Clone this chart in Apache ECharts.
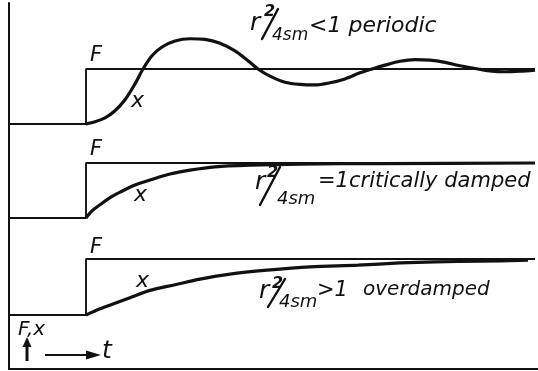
<!DOCTYPE html>
<html>
<head>
<meta charset="utf-8">
<script src="https://cdn.jsdelivr.net/npm/echarts@6/dist/echarts.min.js"></script>
<style>
  html, body { margin: 0; padding: 0; background: #fff; }
  #chart { width: 538px; height: 371px; }
</style>
</head>
<body>
<div id="chart"></div>
<script>
// Time axis (arbitrary units; the force steps on at t = 0)
const tStart = -1.54;
const tEnd = 8.98;

// Applied force F: zero, then a unit step
const tForce = [tStart, 0, 0, tEnd];
const force = [0, 0, 1, 1];

// Displacement x for r²/4sm < 1 (periodic, damped oscillation)
const tPeriodic = [0, 0.18, 0.38, 0.58, 0.78, 0.98, 1.14, 1.32, 1.52, 1.78, 2.08, 2.38, 2.68, 2.98, 3.24, 3.44, 3.68, 3.98, 4.28, 4.58, 4.88, 5.18, 5.48, 5.72, 5.98, 6.28, 6.58, 6.88, 7.18, 7.48, 7.84, 8.12, 8.38, 8.68, 8.98];
const xPeriodic = [0, 0.04, 0.11, 0.24, 0.44, 0.73, 1.0, 1.24, 1.40, 1.51, 1.55, 1.54, 1.47, 1.33, 1.15, 1.0, 0.87, 0.76, 0.72, 0.71, 0.75, 0.82, 0.93, 1.0, 1.07, 1.14, 1.17, 1.16, 1.12, 1.06, 1.0, 0.96, 0.95, 0.96, 0.98];

// Displacement x for r²/4sm = 1 (critically damped)
const tCritical = [0, 0.12, 0.28, 0.48, 0.68, 0.98, 1.28, 1.68, 2.08, 2.58, 3.28, 4.28, 5.88, 8.98];
const xCritical = [0, 0.13, 0.24, 0.37, 0.47, 0.60, 0.69, 0.80, 0.87, 0.93, 0.96, 0.98, 0.99, 1.0];

// Displacement x for r²/4sm > 1 (overdamped)
const tOver = [0, 0.28, 0.58, 0.88, 1.28, 1.78, 2.28, 2.88, 3.62, 4.48, 5.44, 6.28, 6.98, 7.88, 8.84];
const xOver = [0, 0.11, 0.21, 0.31, 0.44, 0.54, 0.64, 0.73, 0.80, 0.86, 0.89, 0.93, 0.95, 0.96, 0.98];

const ink = '#111';
const zip = (a, b) => a.map((v, i) => [v, b[i]]);

// Three stacked panels share the time scale; each has F = 1 at its top edge
const panels = [
  { top: 69, height: 55, x: zip(tPeriodic, xPeriodic) },
  { top: 163, height: 55, x: zip(tCritical, xCritical) },
  { top: 259, height: 56, x: zip(tOver, xOver) }
];

const grid = [];
const xAxis = [];
const yAxis = [];
const series = [];

panels.forEach((p, i) => {
  grid.push({ left: 9, width: 527, top: p.top, height: p.height });
  xAxis.push({ gridIndex: i, type: 'value', min: tStart, max: 9.0, show: false });
  yAxis.push({ gridIndex: i, type: 'value', min: 0, max: 1, show: false });
  series.push({
    type: 'line', xAxisIndex: i, yAxisIndex: i, data: zip(tForce, force),
    showSymbol: false, clip: false, silent: true,
    lineStyle: { color: ink, width: 1.9 }
  });
  series.push({
    type: 'line', xAxisIndex: i, yAxisIndex: i, data: p.x,
    smooth: 0.3, showSymbol: false, clip: false, silent: true,
    lineStyle: { color: ink, width: 3.2 }
  });
});

// Outer frame: left and bottom axis lines
const frameAxis = {
  type: 'value', min: 0, max: 1,
  axisLine: { show: true, lineStyle: { color: ink, width: 2 } },
  axisTick: { show: false }, axisLabel: { show: false }, splitLine: { show: false }
};
grid.push({ left: 9, right: 0, top: 3, bottom: 2 });
xAxis.push(Object.assign({ gridIndex: 3 }, frameAxis));
yAxis.push(Object.assign({ gridIndex: 3 }, frameAxis));

const FONT = '"DejaVu Sans"';

function txt(x, y, s, size, weight) {
  return {
    type: 'text', x: x, y: y, silent: true,
    style: {
      text: s, fill: ink,
      font: 'italic ' + (weight || 'normal') + ' ' + size + 'px ' + FONT,
      align: 'left', verticalAlign: 'middle'
    }
  };
}

function slash(x1, y1, x2, y2) {
  return { type: 'line', silent: true, shape: { x1: x1, y1: y1, x2: x2, y2: y2 }, style: { stroke: ink, lineWidth: 2.4, lineCap: 'round' } };
}

// r²/4sm followed by the relation text
function ratio(o) {
  return [
    txt(o.rx, o.ry, 'r', 25),
    txt(o.sx, o.sy, '2', 16, 'bold'),
    slash(o.l[0], o.l[1], o.l[2], o.l[3]),
    txt(o.dx, o.dy, '4sm', o.ds),
    txt(o.relX, o.relY, o.rel, o.relSize)
  ];
}

const graphic = [].concat(
  ratio({ rx: 250, ry: 23, sx: 264, sy: 12, l: [278, 9, 262, 39], dx: 272, dy: 36, ds: 17, relX: 309, relY: 26, rel: '<1 periodic', relSize: 22 }),
  ratio({ rx: 255, ry: 182, sx: 267, sy: 173, l: [280, 167, 260, 205], dx: 277, dy: 199, ds: 18, relX: 318, relY: 182, rel: '=1critically damped', relSize: 21 }),
  ratio({ rx: 259, ry: 291, sx: 272, sy: 284, l: [285, 279, 268, 307], dx: 279, dy: 302, ds: 18, relX: 317, relY: 291, rel: '>1', relSize: 21 }),
  [
    txt(363, 290, 'overdamped', 20),
    txt(90, 56, 'F', 21),
    txt(90, 150, 'F', 21),
    txt(90, 248, 'F', 21),
    txt(131, 101, 'x', 22),
    txt(134, 195, 'x', 22),
    txt(136, 281, 'x', 22),
    txt(18, 330, 'F,x', 20),
    txt(102, 351, 't', 25),
    // axis-direction arrows
    { type: 'line', silent: true, shape: { x1: 27, y1: 361, x2: 27, y2: 346 }, style: { stroke: ink, lineWidth: 3 } },
    { type: 'polygon', silent: true, shape: { points: [[22.5, 347], [31.5, 347], [27, 337]] }, style: { fill: ink } },
    { type: 'line', silent: true, shape: { x1: 45, y1: 355, x2: 88, y2: 355 }, style: { stroke: ink, lineWidth: 2 } },
    { type: 'polygon', silent: true, shape: { points: [[86, 350.5], [86, 359.5], [101, 355]] }, style: { fill: ink } }
  ]
);

const chart = echarts.init(document.getElementById('chart'), null, { renderer: 'canvas' });
chart.setOption({
  animation: false,
  backgroundColor: '#fff',
  grid: grid,
  xAxis: xAxis,
  yAxis: yAxis,
  series: series,
  graphic: graphic
});
</script>
</body>
</html>
